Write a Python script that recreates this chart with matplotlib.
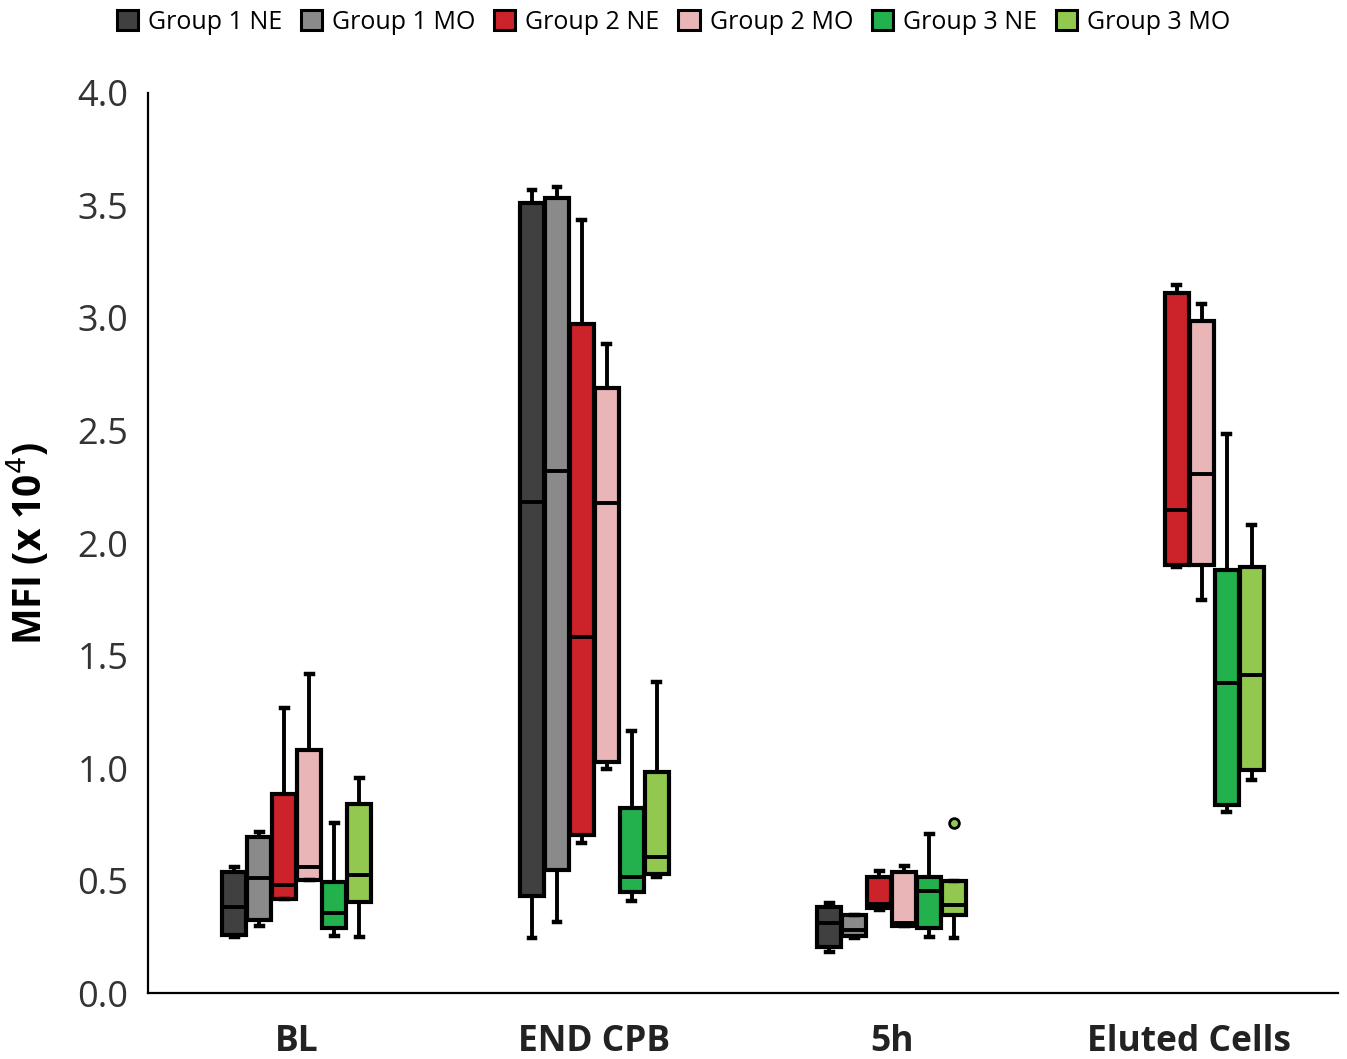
import matplotlib.pyplot as plt
import numpy as np
from matplotlib.patches import Patch

plt.rcParams['font.family'] = ['Open Sans', 'DejaVu Sans']

categories = ['BL', 'END CPB', '5h', 'Eluted Cells']
groups = ['Group 1 NE', 'Group 1 MO', 'Group 2 NE', 'Group 2 MO', 'Group 3 NE', 'Group 3 MO']
colors = ['#404040', '#8a8a8a', '#cc2229', '#e9b5b6', '#22b14c', '#92c850']

# rows = groups, columns = categories (MFI x 10^4)
q1 = [
    [0.258, 0.431, 0.206, np.nan],
    [0.324, 0.547, 0.253, np.nan],
    [0.420, 0.702, 0.376, 1.902],
    [0.502, 1.027, 0.298, 1.902],
    [0.287, 0.449, 0.287, 0.836],
    [0.406, 0.529, 0.347, 0.991],
]
med = [
    [0.382, 2.182, 0.310, np.nan],
    [0.510, 2.320, 0.280, np.nan],
    [0.480, 1.582, 0.396, 2.147],
    [0.559, 2.178, 0.310, 2.307],
    [0.354, 0.516, 0.453, 1.378],
    [0.524, 0.604, 0.391, 1.413],
]
q3 = [
    [0.539, 3.510, 0.384, np.nan],
    [0.695, 3.533, 0.347, np.nan],
    [0.883, 2.973, 0.514, 3.111],
    [1.080, 2.689, 0.539, 2.987],
    [0.495, 0.822, 0.514, 1.880],
    [0.840, 0.982, 0.499, 1.893],
]
whishi = [
    [0.561, 3.569, 0.401, np.nan],
    [0.717, 3.580, 0.347, np.nan],
    [1.265, 3.436, 0.543, 3.147],
    [1.418, 2.884, 0.564, 3.062],
    [0.757, 1.164, 0.705, 2.484],
    [0.954, 1.382, 0.499, 2.080],
]
whislo = [
    [0.250, 0.244, 0.184, np.nan],
    [0.298, 0.316, 0.244, np.nan],
    [0.420, 0.667, 0.369, 1.895],
    [0.502, 0.996, 0.298, 1.747],
    [0.253, 0.409, 0.250, 0.804],
    [0.247, 0.516, 0.243, 0.947],
]
# outliers: (group index, category index, value)
outliers = [(5, 2, 0.754)]

step = 0.084
width = 0.08

fig = plt.figure(figsize=(13.47, 10.59), dpi=100)
ax = fig.add_axes([0.1099, 0.0623, 0.8834, 0.8499])

for g in range(len(groups)):
    stats = []
    pos = []
    for c in range(len(categories)):
        if np.isnan(med[g][c]):
            continue
        fl = [v for (gi, ci, v) in outliers if gi == g and ci == c]
        stats.append(dict(med=med[g][c], q1=q1[g][c], q3=q3[g][c],
                          whislo=whislo[g][c], whishi=whishi[g][c],
                          fliers=np.array(fl)))
        pos.append(c + (g - 2.5) * step)
    ax.bxp(stats, positions=pos, widths=width, capwidths=0.022,
           patch_artist=True, manage_ticks=False,
           boxprops=dict(facecolor=colors[g], edgecolor='black', linewidth=3),
           medianprops=dict(color='black', linewidth=2.8),
           whiskerprops=dict(color='black', linewidth=2.8),
           capprops=dict(color='black', linewidth=3.2),
           flierprops=dict(marker='o', markersize=7, markerfacecolor=colors[g],
                           markeredgecolor='black', markeredgewidth=2))

ax.set_xlim(-0.5, 3.5)
ax.set_ylim(0, 4)
ax.set_yticks(np.arange(0, 4.01, 0.5))
ax.set_yticklabels([f'{v:.1f}' for v in np.arange(0, 4.01, 0.5)],
                   fontsize=26, color='#333333')
ax.set_xticks(range(len(categories)))
ax.set_xticklabels(categories, fontsize=25.5, fontweight='bold', color='#222222')
ax.tick_params(axis='y', length=0, pad=14)
ax.tick_params(axis='x', length=0, pad=22)
ax.set_ylabel('MFI (x 10$^4$)', fontsize=28, fontweight='bold', labelpad=20)
for s in ['top', 'right']:
    ax.spines[s].set_visible(False)
for s in ['left', 'bottom']:
    ax.spines[s].set_linewidth(1.6)

handles = [Patch(facecolor=c, edgecolor='black', linewidth=2.2) for c in colors]
fig.legend(handles, groups, loc='upper center', bbox_to_anchor=(0.5, 1.012),
           ncol=6, frameon=False, fontsize=18, handlelength=0.85,
           handleheight=0.85, handletextpad=0.4, columnspacing=0.75)

fig.savefig('out.png', dpi=100)
